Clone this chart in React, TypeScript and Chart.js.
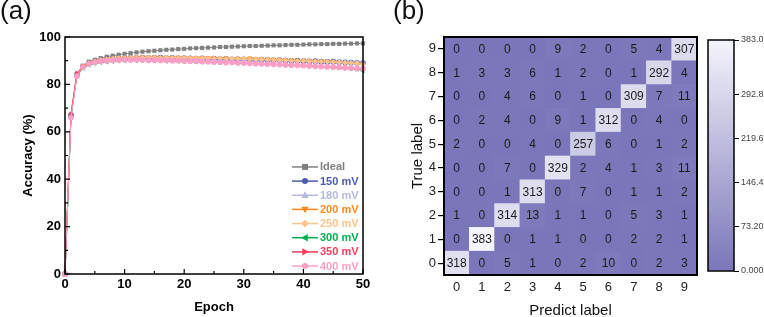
import React, { useEffect, useRef } from 'react';
import { Chart, registerables } from 'chart.js';

Chart.register(...registerables);

// ---------------- Panel (a) data ----------------
const EPOCHS = [
  0, 1, 2, 3, 4, 5, 6, 7, 8, 9,
  10, 11, 12, 13, 14, 15, 16, 17, 18, 19,
  20, 21, 22, 23, 24, 25, 26, 27, 28, 29,
  30, 31, 32, 33, 34, 35, 36, 37, 38, 39,
  40, 41, 42, 43, 44, 45, 46, 47, 48, 49,
  50,
];
const EPOCH_TICKS = [0, 10, 20, 30, 40, 50];
const ACC_TICKS = [0, 20, 40, 60, 80, 100];
const SERIES_NAMES = ['Ideal', '150 mV', '180 mV', '200 mV', '250 mV', '300 mV', '350 mV', '400 mV'];

const IDEAL = [
  0, 66.2, 84.3, 87.9, 89.6, 90.4, 91.1, 91.7, 92.1, 92.5,
  92.9, 93.2, 93.5, 93.8, 94.0, 94.2, 94.4, 94.6, 94.7, 94.9,
  95.0, 95.2, 95.3, 95.4, 95.5, 95.6, 95.8, 95.8, 95.9, 96.0,
  96.1, 96.2, 96.2, 96.3, 96.4, 96.5, 96.5, 96.6, 96.7, 96.7,
  96.8, 96.9, 96.9, 97.0, 97.0, 97.1, 97.1, 97.2, 97.2, 97.3,
  97.3,
];
const MV150 = [
  0, 67.0, 84.1, 87.4, 88.9, 89.6, 90.1, 90.5, 90.7, 90.9,
  91.0, 91.2, 91.1, 91.3, 91.2, 91.2, 91.3, 91.1, 91.2, 91.0,
  91.1, 91.0, 90.9, 91.0, 90.8, 90.9, 90.7, 90.8, 90.6, 90.5,
  90.6, 90.4, 90.3, 90.4, 90.2, 90.1, 90.2, 90.0, 89.9, 90.0,
  89.8, 89.7, 89.8, 89.6, 89.5, 89.6, 89.4, 89.3, 89.2, 89.1,
  89.0,
];
const MV180 = [
  0, 66.6, 84.0, 87.6, 89.1, 89.8, 90.3, 90.6, 90.9, 91.1,
  91.2, 91.3, 91.2, 91.4, 91.3, 91.4, 91.2, 91.3, 91.2, 91.3,
  91.1, 91.2, 91.0, 91.1, 90.9, 91.0, 90.8, 90.9, 90.7, 90.8,
  90.6, 90.7, 90.5, 90.4, 90.5, 90.3, 90.2, 90.3, 90.1, 90.0,
  90.1, 89.9, 89.8, 89.9, 89.7, 89.6, 89.7, 89.5, 89.4, 89.5,
  89.3,
];
const MV200 = [
  0, 66.8, 84.2, 87.8, 89.2, 89.9, 90.4, 90.8, 91.1, 91.3,
  91.4, 91.5, 91.5, 91.6, 91.5, 91.6, 91.5, 91.5, 91.4, 91.5,
  91.4, 91.3, 91.4, 91.3, 91.4, 91.2, 91.1, 91.2, 91.0, 91.1,
  91.0, 91.2, 90.9, 90.8, 90.7, 90.6, 90.5, 90.4, 90.3, 90.2,
  90.1, 90.0, 89.9, 89.9, 89.8, 89.7, 89.5, 89.3, 89.1, 88.9,
  88.6,
];
const MV250 = [
  0, 66.4, 83.9, 87.5, 89.0, 89.7, 90.2, 90.6, 90.9, 91.1,
  91.2, 91.3, 91.2, 91.3, 91.4, 91.3, 91.2, 91.3, 91.2, 91.1,
  91.2, 91.1, 91.0, 91.1, 91.0, 90.9, 91.0, 90.8, 90.9, 90.7,
  90.8, 90.6, 90.5, 90.6, 90.4, 90.3, 90.2, 90.1, 90.0, 89.9,
  89.9, 89.8, 89.7, 89.6, 89.5, 89.4, 89.3, 89.1, 89.0, 88.8,
  88.4,
];
const MV300 = [
  0, 66.5, 83.5, 86.8, 88.2, 88.8, 89.2, 89.5, 89.7, 89.9,
  90.0, 90.1, 90.0, 90.1, 90.0, 89.9, 90.0, 89.8, 89.9, 89.7,
  89.6, 89.7, 89.5, 89.4, 89.5, 89.3, 89.2, 89.1, 89.2, 89.0,
  88.9, 88.8, 88.7, 88.8, 88.5, 88.4, 88.3, 88.2, 88.1, 88.0,
  87.9, 87.7, 87.6, 87.5, 87.3, 87.2, 87.0, 86.9, 86.7, 86.4,
  85.8,
];
const MV350 = [
  0, 67.5, 84.8, 87.5, 88.8, 89.4, 89.8, 90.1, 90.3, 90.4,
  90.5, 90.4, 90.5, 90.3, 90.4, 90.2, 90.3, 90.1, 90.2, 90.0,
  89.9, 90.0, 89.7, 89.8, 89.6, 89.5, 89.3, 89.4, 89.1, 89.2,
  89.0, 88.8, 88.9, 88.6, 88.5, 88.3, 88.4, 88.1, 88.0, 87.8,
  87.9, 87.6, 87.5, 87.3, 87.2, 87.0, 86.9, 86.7, 86.6, 86.4,
  86.3,
];
const MV400 = [
  0, 66.0, 83.5, 87.2, 88.6, 89.3, 89.8, 90.0, 90.2, 90.3,
  90.4, 90.3, 90.4, 90.3, 90.2, 90.3, 90.1, 90.2, 90.0, 90.1,
  89.9, 89.8, 89.9, 89.7, 89.6, 89.5, 89.4, 89.2, 89.3, 89.1,
  89.0, 88.9, 88.8, 88.7, 88.6, 88.5, 88.4, 88.3, 88.2, 88.1,
  88.0, 87.9, 87.8, 87.6, 87.5, 87.4, 87.3, 87.1, 87.0, 86.8,
  86.7,
];
const SERIES_VALUES = [IDEAL, MV150, MV180, MV200, MV250, MV300, MV350, MV400];

// styles for panel (a)
const SERIES_COLORS = ['#808080', '#4d5cb0', '#b5bae3', '#ff8a1c', '#ffc48c', '#00b050', '#ff3d5e', '#ff9ec6'];
const SERIES_MARKERS = ['rect', 'circle', 'triangle', 'triangle', 'rectRot', 'triangle', 'triangle', 'circle'];
const SERIES_ROT = [0, 0, 0, 180, 0, -90, 90, 0];

// ---------------- Panel (b) data ----------------
const PRED_LABELS = ['0', '1', '2', '3', '4', '5', '6', '7', '8', '9'];
const TRUE_LABELS = [0, 1, 2, 3, 4, 5, 6, 7, 8, 9];
const CM_TRUE_0 = [318, 0, 5, 1, 0, 2, 10, 0, 2, 3];
const CM_TRUE_1 = [0, 383, 0, 1, 1, 0, 0, 2, 2, 1];
const CM_TRUE_2 = [1, 0, 314, 13, 1, 1, 0, 5, 3, 1];
const CM_TRUE_3 = [0, 0, 1, 313, 0, 7, 0, 1, 1, 2];
const CM_TRUE_4 = [0, 0, 7, 0, 329, 2, 4, 1, 3, 11];
const CM_TRUE_5 = [2, 0, 0, 4, 0, 257, 6, 0, 1, 2];
const CM_TRUE_6 = [0, 2, 4, 0, 9, 1, 312, 0, 4, 0];
const CM_TRUE_7 = [0, 0, 4, 6, 0, 1, 0, 309, 7, 11];
const CM_TRUE_8 = [1, 3, 3, 6, 1, 2, 0, 1, 292, 4];
const CM_TRUE_9 = [0, 0, 0, 0, 9, 2, 0, 5, 4, 307];
const CM_ROWS = [CM_TRUE_0, CM_TRUE_1, CM_TRUE_2, CM_TRUE_3, CM_TRUE_4, CM_TRUE_5, CM_TRUE_6, CM_TRUE_7, CM_TRUE_8, CM_TRUE_9];
const CBAR_MIN = 0;
const CBAR_MAX = 383;
const CBAR_TICKS = [0, 73.2, 146.4, 219.6, 292.8, 383];

const LOW_RGB = [123, 118, 185];
const HIGH_RGB = [244, 244, 251];
const FONT = '"Liberation Sans", Arial, sans-serif';

function mixColor(t: number) {
  const c = LOW_RGB.map((l, i) => Math.round(l + (HIGH_RGB[i] - l) * Math.max(0, Math.min(1, t))));
  return `rgb(${c[0]},${c[1]},${c[2]})`;
}

function drawMarker(ctx: CanvasRenderingContext2D, style: string, rot: number, x: number, y: number, r: number, color: string) {
  ctx.save();
  ctx.fillStyle = color;
  ctx.translate(x, y);
  ctx.rotate((rot * Math.PI) / 180);
  ctx.beginPath();
  if (style === 'rect') {
    ctx.rect(-r, -r, 2 * r, 2 * r);
  } else if (style === 'circle') {
    ctx.arc(0, 0, r, 0, Math.PI * 2);
  } else if (style === 'rectRot') {
    ctx.moveTo(0, -r * 1.3); ctx.lineTo(r * 1.3, 0); ctx.lineTo(0, r * 1.3); ctx.lineTo(-r * 1.3, 0); ctx.closePath();
  } else {
    const s = r * 1.3;
    ctx.moveTo(0, -s); ctx.lineTo(s * 0.95, s * 0.7); ctx.lineTo(-s * 0.95, s * 0.7); ctx.closePath();
  }
  ctx.fill();
  ctx.restore();
}

const frameAPlugin = {
  id: 'frameA',
  afterDraw(chart: any) {
    const { ctx, chartArea: a, scales } = chart;
    ctx.save();
    ctx.strokeStyle = '#000';
    ctx.lineWidth = 1.5;
    ctx.strokeRect(a.left, a.top, a.right - a.left, a.bottom - a.top);
    ctx.lineWidth = 1.2;
    const xt = scales.x.ticks.map((t: any) => t.value);
    const yt = scales.y.ticks.map((t: any) => t.value);
    ctx.beginPath();
    xt.forEach((v: number, i: number) => {
      const x = scales.x.getPixelForValue(v);
      ctx.moveTo(x, a.bottom); ctx.lineTo(x, a.bottom - 5);
      if (i < xt.length - 1) {
        const xm = scales.x.getPixelForValue((v + xt[i + 1]) / 2);
        ctx.moveTo(xm, a.bottom); ctx.lineTo(xm, a.bottom - 3);
      }
    });
    yt.forEach((v: number, i: number) => {
      const y = scales.y.getPixelForValue(v);
      ctx.moveTo(a.left, y); ctx.lineTo(a.left + 5, y);
      if (i < yt.length - 1) {
        const ym = scales.y.getPixelForValue((v + yt[i + 1]) / 2);
        ctx.moveTo(a.left, ym); ctx.lineTo(a.left + 3, ym);
      }
    });
    ctx.stroke();
    ctx.restore();
  },
};

const legendAPlugin = {
  id: 'legendA',
  afterDraw(chart: any) {
    const { ctx, chartArea: a } = chart;
    const ds = chart.data.datasets;
    const n = ds.length;
    ctx.save();
    ds.forEach((d: any, i: number) => {
      const y = a.bottom - 8 - (n - 1 - i) * 14.15;
      const x0 = a.right - 71;
      const x1 = a.right - 45;
      ctx.strokeStyle = d.borderColor;
      ctx.lineWidth = 1.5;
      ctx.beginPath(); ctx.moveTo(x0, y); ctx.lineTo(x1, y); ctx.stroke();
      drawMarker(ctx, d.pointStyle, d.pointRotation, (x0 + x1) / 2, y, 3, d.borderColor);
      ctx.fillStyle = d.borderColor;
      ctx.font = `bold 11px ${FONT}`;
      ctx.textBaseline = 'middle';
      ctx.textAlign = 'left';
      ctx.fillText(d.label, a.right - 43, y + 0.5);
    });
    ctx.restore();
  },
};

const frameBPlugin = {
  id: 'frameB',
  afterDatasetsDraw(chart: any) {
    const { ctx, chartArea: a } = chart;
    ctx.save();
    ctx.font = `12px ${FONT}`;
    ctx.fillStyle = '#1a1a1a';
    ctx.textAlign = 'center';
    ctx.textBaseline = 'middle';
    chart.data.datasets.forEach((d: any, di: number) => {
      const meta = chart.getDatasetMeta(di);
      meta.data.forEach((bar: any, j: number) => {
        const p = bar.getProps(['x', 'y', 'base'], true);
        ctx.fillText(String(d.counts[j]), p.x, (p.y + p.base) / 2 + 0.5);
      });
    });
    ctx.strokeStyle = '#000';
    ctx.lineWidth = 2;
    ctx.strokeRect(a.left, a.top, a.right - a.left, a.bottom - a.top);
    ctx.restore();
  },
};

const frameCPlugin = {
  id: 'frameC',
  afterDraw(chart: any) {
    const { ctx, chartArea: a } = chart;
    ctx.save();
    ctx.strokeStyle = '#000';
    ctx.lineWidth = 1.5;
    ctx.strokeRect(a.left, a.top, a.right - a.left, a.bottom - a.top);
    ctx.restore();
  },
};

export default function App() {
  const refA = useRef<HTMLCanvasElement>(null);
  const refB = useRef<HTMLCanvasElement>(null);
  const refC = useRef<HTMLCanvasElement>(null);

  useEffect(() => {
    const n = SERIES_NAMES.length;
    const chartA = new Chart(refA.current as HTMLCanvasElement, {
      type: 'line',
      data: {
        labels: EPOCHS,
        datasets: SERIES_NAMES.map((name, i) => ({
          label: name,
          data: SERIES_VALUES[i],
          borderColor: SERIES_COLORS[i],
          backgroundColor: SERIES_COLORS[i],
          pointStyle: SERIES_MARKERS[i],
          pointRotation: SERIES_ROT[i],
          pointRadius: 2.9,
          pointBorderWidth: 0,
          borderWidth: 1,
          order: n - i,
          clip: false,
          tension: 0,
        })) as any,
      },
      options: {
        responsive: false,
        animation: false,
        layout: { padding: { top: 37, right: 17, left: 0, bottom: 0 } },
        plugins: { legend: { display: false }, tooltip: { enabled: false } },
        scales: {
          x: {
            type: 'linear',
            min: 0,
            max: 50,
            afterBuildTicks: (s: any) => { s.ticks = EPOCH_TICKS.map((v) => ({ value: v })); },
            afterFit: (s: any) => { s.height = 43; },
            grid: { display: false, drawTicks: false },
            border: { display: false },
            ticks: { font: { family: FONT, size: 13, weight: 'bold' }, color: '#000', padding: 3, maxRotation: 0 },
            title: { display: true, text: 'Epoch', color: '#000', font: { family: FONT, size: 13, weight: 'bold' }, padding: { top: 0, bottom: 2 } },
          },
          y: {
            min: 0,
            max: 100,
            afterBuildTicks: (s: any) => { s.ticks = ACC_TICKS.map((v) => ({ value: v })); },
            afterFit: (s: any) => { s.width = 65; },
            grid: { display: false, drawTicks: false },
            border: { display: false },
            ticks: { font: { family: FONT, size: 13, weight: 'bold' }, color: '#000', padding: 4 },
            title: { display: true, text: 'Accuracy (%)', color: '#000', font: { family: FONT, size: 13, weight: 'bold' }, padding: { top: 21, bottom: 0 } },
          },
        },
      } as any,
      plugins: [frameAPlugin, legendAPlugin],
    });

    const chartB = new Chart(refB.current as HTMLCanvasElement, {
      type: 'bar',
      data: {
        labels: PRED_LABELS,
        datasets: CM_ROWS.map((row, r) => ({
          label: String(TRUE_LABELS[r]),
          data: row.map(() => [TRUE_LABELS[r] - 0.5, TRUE_LABELS[r] + 0.5]),
          counts: row,
          backgroundColor: row.map((v) => mixColor((v - CBAR_MIN) / (CBAR_MAX - CBAR_MIN))),
          borderWidth: 0,
          barPercentage: 1,
          categoryPercentage: 1,
          grouped: false,
        })) as any,
      },
      options: {
        responsive: false,
        animation: false,
        layout: { padding: { top: 37, right: 3, left: 0, bottom: 0 } },
        plugins: { legend: { display: false }, tooltip: { enabled: false } },
        scales: {
          x: {
            afterFit: (s: any) => { s.height = 42; },
            grid: { display: false, drawTicks: false },
            border: { display: false },
            ticks: { font: { family: FONT, size: 13 }, color: '#222', padding: 5, maxRotation: 0 },
            title: { display: true, text: 'Predict label', color: '#111', font: { family: FONT, size: 15 }, padding: { top: 0, bottom: -3 } },
          },
          y: {
            type: 'linear',
            min: -0.5,
            max: 9.5,
            afterBuildTicks: (s: any) => { s.ticks = TRUE_LABELS.map((v) => ({ value: v })); },
            afterFit: (s: any) => { s.width = 64; },
            grid: { display: true, drawOnChartArea: false, drawTicks: true, tickLength: 6, color: '#000', lineWidth: 1.2 },
            border: { display: false },
            ticks: { font: { family: FONT, size: 13 }, color: '#222', padding: 2 },
            title: { display: true, text: 'True label', color: '#111', font: { family: FONT, size: 15 }, padding: { top: 29, bottom: 0 } },
          },
        },
      } as any,
      plugins: [frameBPlugin],
    });

    const chartC = new Chart(refC.current as HTMLCanvasElement, {
      type: 'bar',
      data: {
        labels: [''],
        datasets: [
          {
            data: [[CBAR_MIN, CBAR_MAX]],
            backgroundColor: (c: any) => {
              const a = c.chart.chartArea;
              if (!a) return mixColor(0);
              const g = c.chart.ctx.createLinearGradient(0, a.bottom, 0, a.top);
              for (let k = 0; k <= 10; k++) g.addColorStop(k / 10, mixColor(k / 10));
              return g;
            },
            borderWidth: 0,
            barPercentage: 1,
            categoryPercentage: 1,
          },
        ] as any,
      },
      options: {
        responsive: false,
        animation: false,
        layout: { padding: { top: 40, right: 0, left: 8, bottom: 46 } },
        plugins: { legend: { display: false }, tooltip: { enabled: false } },
        scales: {
          x: { display: false },
          y: {
            position: 'right',
            min: CBAR_MIN,
            max: CBAR_MAX,
            afterBuildTicks: (s: any) => { s.ticks = CBAR_TICKS.map((v) => ({ value: v })); },
            afterFit: (s: any) => { s.width = 30; },
            grid: { display: true, drawOnChartArea: false, drawTicks: true, tickLength: 5, color: '#000', lineWidth: 1 },
            border: { display: false },
            ticks: { font: { family: FONT, size: 9 }, color: '#444', padding: 2, autoSkip: false, callback: (v: any) => Number(v).toPrecision(4) },
          },
        },
      } as any,
      plugins: [frameCPlugin],
    });

    return () => {
      chartA.destroy();
      chartB.destroy();
      chartC.destroy();
    };
  }, []);

  const labelStyle: React.CSSProperties = {
    position: 'absolute',
    top: -3,
    fontFamily: FONT,
    fontSize: 26,
    lineHeight: '26px',
    color: '#111',
  };

  return (
    <div style={{ position: 'fixed', left: 0, top: 0, width: 764, height: 317, background: '#fff', overflow: 'hidden' }}>
      <canvas ref={refA} width={380} height={317} style={{ position: 'absolute', left: 0, top: 0, width: 380, height: 317 }} />
      <canvas ref={refB} width={320} height={317} style={{ position: 'absolute', left: 380, top: 0, width: 320, height: 317 }} />
      <canvas ref={refC} width={64} height={317} style={{ position: 'absolute', left: 700, top: 0, width: 64, height: 317 }} />
      <div style={{ ...labelStyle, left: 0 }}>(a)</div>
      <div style={{ ...labelStyle, left: 393 }}>(b)</div>
    </div>
  );
}
